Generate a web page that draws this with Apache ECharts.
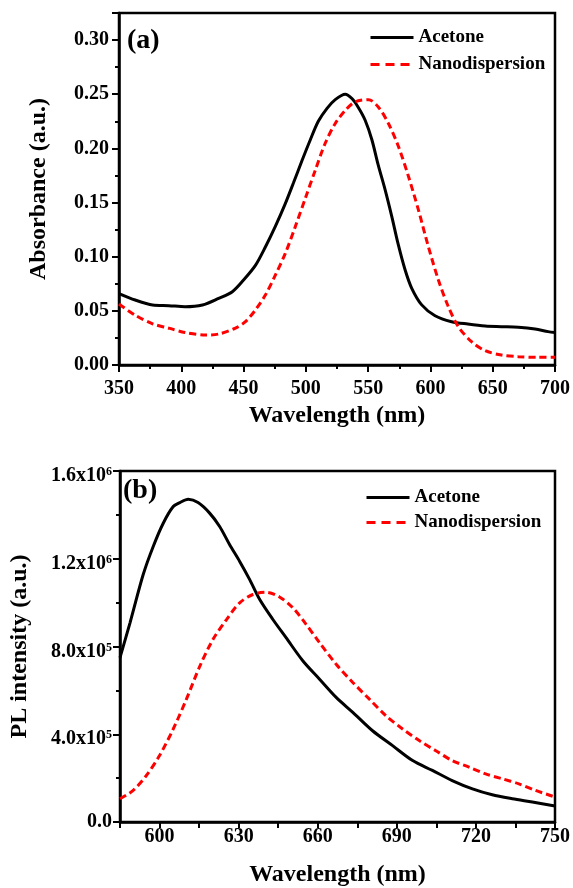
<!DOCTYPE html>
<html>
<head>
<meta charset="utf-8">
<script src="https://cdn.jsdelivr.net/npm/echarts@6/dist/echarts.min.js"></script>
<style>
html,body{margin:0;padding:0;background:#fff;}
#c{width:573px;height:888px;}
</style>
</head>
<body>
<div id="c"></div>
<script>
// ---- Panel (a): absorbance ----
const absAcetoneWl = [350,363,377,390,403,417,430,441,450,459.5,467.5,475.5,483.5,490,497,503.6,510,517,523.6,531.6,537,542,547.6,553,558,563.7,569,574,579.7,585,593,603.7,617,630,644,657,670.5,684,694.5,700];
const absAcetone = [0.066,0.060,0.0554,0.0548,0.0538,0.0554,0.0615,0.0677,0.0785,0.092,0.109,0.128,0.149,0.168,0.189,0.208,0.225,0.237,0.245,0.250,0.246,0.238,0.226,0.208,0.185,0.1615,0.137,0.112,0.0877,0.0708,0.0555,0.0455,0.040,0.0378,0.036,0.0354,0.0348,0.0332,0.0308,0.030];
const absNanoWl = [350,363,377,390,403,419.4,430,443.5,451.5,459.5,467.5,475.5,483.5,491.6,499.6,507.6,515.6,523.6,531.6,539.6,550.3,558.3,566.3,574.4,582.4,590.4,598.4,606.4,614.4,622.4,633,644,657,670.5,686.5,700];
const absNano = [0.0563,0.046,0.038,0.034,0.030,0.0277,0.0286,0.034,0.040,0.0508,0.0646,0.083,0.103,0.128,0.154,0.180,0.205,0.223,0.235,0.243,0.245,0.238,0.223,0.2015,0.174,0.143,0.109,0.0785,0.0538,0.0354,0.0215,0.0132,0.0092,0.0077,0.0071,0.0071];

// ---- Panel (b): PL intensity ----
const plAcetoneWl = [585,588.8,593.8,597.6,601.4,605.2,607.7,610.9,614.6,619,622.8,626.6,630.4,634.2,638,643,648,654.4,660.7,667,673.3,680.8,688.4,696,703.5,711,718.7,726.2,733.8,741.4,750];
const plAcetone = [7.49e5,9.08e5,1.128e6,1.256e6,1.362e6,1.438e6,1.456e6,1.471e6,1.456e6,1.408e6,1.347e6,1.264e6,1.188e6,1.105e6,1.014e6,9.23e5,8.40e5,7.34e5,6.51e5,5.68e5,5.00e5,4.16e5,3.48e5,2.80e5,2.35e5,1.89e5,1.51e5,1.24e5,1.06e5,9.1e4,7.3e4];
const plNanoWl = [585,590,595,600,605.2,610.2,615.3,620.3,625.4,630.4,635.4,640.5,645.5,650.6,655.6,660.7,667,673.3,679.6,685.9,692.2,698.5,704.8,711,717.4,723.7,730,736.3,742.6,750];
const plNano = [1.06e5,1.44e5,2.12e5,3.03e5,4.24e5,5.60e5,7.11e5,8.33e5,9.23e5,9.99e5,1.037e6,1.047e6,1.026e6,9.76e5,9.01e5,8.17e5,7.19e5,6.36e5,5.60e5,4.84e5,4.24e5,3.71e5,3.25e5,2.80e5,2.50e5,2.19e5,1.97e5,1.74e5,1.44e5,1.14e5];

const seriesNames = ['Acetone', 'Nanodispersion'];
const absYTicks = [0, 0.05, 0.10, 0.15, 0.20, 0.25, 0.30];
const plXTickLabels = [600, 630, 660, 690, 720, 750];
const plYTicks = [0, 4e5, 8e5, 1.2e6, 1.6e6];

function zip(xs, ys) { return xs.map((x, i) => [x, ys[i]]); }

const FONT = '"Liberation Serif", "Times New Roman", serif';
const axisLineStyle = { lineStyle: { color: '#000', width: 2.5 } };
const tickStyle = { show: true, inside: false, length: 7, lineStyle: { color: '#000', width: 2 } };
const minorStyle = { show: true, splitNumber: 2, length: 4, lineStyle: { color: '#000', width: 2 } };
const labelBase = { color: '#000', fontFamily: FONT, fontWeight: 'bold', fontSize: 20 };
const nameBase = { color: '#000', fontFamily: FONT, fontWeight: 'bold', fontSize: 24 };

function plLabel(v) {
  const idx = plYTicks.findIndex(t => Math.abs(t - v) < 1);
  if (idx < 0) return '';
  if (v === 0) return '{p|0.0}';
  const e = Math.floor(Math.log10(v) + 1e-9);
  const m = (v / Math.pow(10, e)).toFixed(1);
  return '{b|' + m + 'x10}{s|' + e + '}';
}

const legendBase = {
  data: [
    { name: seriesNames[0], lineStyle: { width: 3 } },
    { name: seriesNames[1], lineStyle: { width: 3, type: [9, 6] } }
  ],
  orient: 'vertical', padding: 0, itemWidth: 43, itemHeight: 14,
  itemStyle: { opacity: 0, borderWidth: 0 },
  lineStyle: { width: 3 },
  textStyle: { fontFamily: FONT, fontWeight: 'bold', fontSize: 19, color: '#000', lineHeight: 19 }
};

const chart = echarts.init(document.getElementById('c'), null, { renderer: 'canvas' });
chart.setOption({
  backgroundColor: '#fff',
  animation: false,
  title: [
    { text: '(a)', left: 127, top: 27, padding: 0, textStyle: { fontFamily: FONT, fontWeight: 'bold', fontSize: 28, color: '#000' } },
    { text: '(b)', left: 123, top: 477, padding: 0, textStyle: { fontFamily: FONT, fontWeight: 'bold', fontSize: 28, color: '#000' } }
  ],
  legend: [
    Object.assign({}, legendBase, { left: 369, top: 28, itemGap: 8 }),
    Object.assign({}, legendBase, { left: 365, top: 488, itemGap: 6 })
  ],
  grid: [
    { left: 119, top: 13, width: 437, height: 352, show: true, borderColor: '#000', borderWidth: 2.5, backgroundColor: 'transparent' },
    { left: 119, top: 471, width: 437, height: 352, show: true, borderColor: '#000', borderWidth: 2.5, backgroundColor: 'transparent' }
  ],
  xAxis: [
    { type: 'value', gridIndex: 0, min: 350, max: 700, interval: 50,
      name: 'Wavelength (nm)', nameLocation: 'middle', nameGap: 39, nameTextStyle: nameBase,
      axisLine: axisLineStyle, axisTick: tickStyle, minorTick: minorStyle, splitLine: { show: false },
      axisLabel: Object.assign({ margin: 14 }, labelBase) },
    { type: 'value', gridIndex: 1, min: 585, max: 750, interval: 15,
      name: 'Wavelength (nm)', nameLocation: 'middle', nameGap: 41, nameTextStyle: nameBase,
      axisLine: axisLineStyle, axisTick: { show: true, inside: false, length: 6, lineStyle: { color: '#000', width: 2 } },
      splitLine: { show: false },
      axisLabel: Object.assign({ margin: 5, formatter: v => plXTickLabels.indexOf(Math.round(v)) >= 0 ? String(Math.round(v)) : '' }, labelBase) }
  ],
  yAxis: [
    { type: 'value', gridIndex: 0, min: 0, max: 0.325, interval: 0.05,
      name: 'Absorbance (a.u.)', nameLocation: 'middle', nameGap: 68, nameTextStyle: nameBase,
      axisLine: axisLineStyle, axisTick: tickStyle, minorTick: minorStyle, splitLine: { show: false },
      axisLabel: Object.assign({ margin: 10, formatter: v => absYTicks.some(t => Math.abs(t - v) < 1e-9) ? v.toFixed(2) : '' }, labelBase) },
    { type: 'value', gridIndex: 1, min: 0, max: 1.6e6, interval: 4e5,
      name: 'PL intensity (a.u.)', nameLocation: 'middle', nameGap: 88, nameTextStyle: nameBase,
      axisLine: axisLineStyle, axisTick: tickStyle, minorTick: minorStyle, splitLine: { show: false },
      axisLabel: {
        margin: 8, formatter: plLabel, color: '#000',
        rich: {
          p: { fontFamily: FONT, fontWeight: 'bold', fontSize: 20, color: '#000' },
          b: { fontFamily: FONT, fontWeight: 'bold', fontSize: 20, lineHeight: 20, padding: [10, 0, 0, 0], color: '#000' },
          s: { fontFamily: FONT, fontWeight: 'bold', fontSize: 12, lineHeight: 12, padding: [5, 0, 0, 0], verticalAlign: 'top', color: '#000' }
        }
      } }
  ],
  series: [
    { name: 'Acetone', type: 'line', xAxisIndex: 0, yAxisIndex: 0, data: zip(absAcetoneWl, absAcetone), symbol: 'none', smooth: 0.3,
      lineStyle: { color: '#000', width: 3 }, itemStyle: { color: '#000' } },
    { name: 'Nanodispersion', type: 'line', xAxisIndex: 0, yAxisIndex: 0, data: zip(absNanoWl, absNano), symbol: 'none', smooth: 0.3,
      lineStyle: { color: '#ff0000', width: 3, type: [7, 4] }, itemStyle: { color: '#ff0000' } },
    { name: 'Acetone', type: 'line', xAxisIndex: 1, yAxisIndex: 1, data: zip(plAcetoneWl, plAcetone), symbol: 'none', smooth: 0.3,
      lineStyle: { color: '#000', width: 3 }, itemStyle: { color: '#000' } },
    { name: 'Nanodispersion', type: 'line', xAxisIndex: 1, yAxisIndex: 1, data: zip(plNanoWl, plNano), symbol: 'none', smooth: 0.3,
      lineStyle: { color: '#ff0000', width: 3, type: [7, 4] }, itemStyle: { color: '#ff0000' } }
  ]
});
</script>
</body>
</html>
